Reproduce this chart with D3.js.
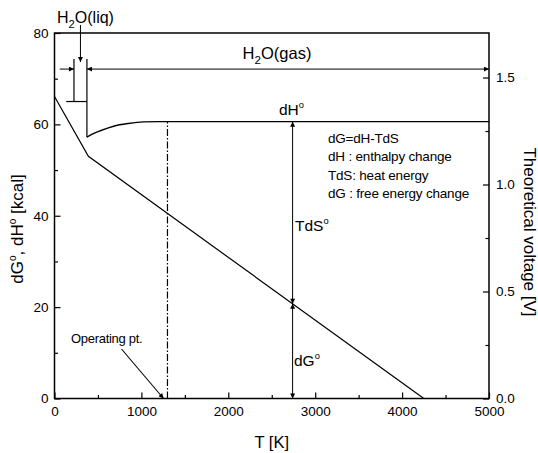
<!DOCTYPE html>
<html>
<head>
<meta charset="utf-8">
<script src="https://cdn.jsdelivr.net/npm/d3@7"></script>
<style>
  body { margin: 0; background: #fff; }
  text { font-family: Arial, "Liberation Sans", sans-serif; fill: #000; }
</style>
</head>
<body>
<script>
// temperature axis
var tMajor = [0, 1000, 2000, 3000, 4000, 5000];
var tMinor = [500, 1500, 2500, 3500, 4500];
// energy axis [kcal]
var eMajor = [0, 20, 40, 60, 80];
var eMinor = [10, 30, 50, 70];
// voltage axis [V]
var vMajor = [0.0, 0.5, 1.0, 1.5];
var vMinor = [0.25, 0.75, 1.25];

// dG curve (T, kcal)
var dgT = [0, 390, 4250];
var dgV = [66.1, 53.0, 0];
// dH curve (T, kcal)
var dhT = [373, 440, 527, 680, 850, 1023, 1200, 5000];
var dhV = [57.2, 57.9, 58.6, 59.6, 60.2, 60.55, 60.6, 60.6];

var liqT = [224, 373];      // liquid bracket
var liqTop = 74.3, liqBottom = 65.0, liqBarStart = 135;
var phaseY = 72.1;           // phase arrows level
var opT = 1300;              // operating point
var arrowT = 2740;           // TdS / dG arrows

var legend = ["dG=dH-TdS", "dH : enthalpy change", "TdS: heat energy", "dG : free energy change"];

var W = 538, H = 453;
var svg = d3.select("body").append("svg")
    .attr("width", W)
    .attr("height", H);

var x = d3.scaleLinear().domain([0, 5000]).range([54.5, 489]);
var y = d3.scaleLinear().domain([0, 80]).range([398.5, 33]);
var yv = d3.scaleLinear().domain([0, 1.708]).range([398.5, 33]);

var defs = svg.append("defs");
defs.append("marker")
    .attr("id", "ah")
    .attr("viewBox", "0 0 10 10")
    .attr("refX", 10).attr("refY", 5)
    .attr("markerWidth", 7).attr("markerHeight", 5)
    .attr("markerUnits", "userSpaceOnUse")
    .attr("orient", "auto-start-reverse")
  .append("path")
    .attr("d", "M0,0L10,5L0,10z")
    .attr("fill", "#000");

// axes
function styleAxis(g) {
  g.select(".domain").remove();
  g.selectAll("line").attr("stroke", "#000").attr("stroke-width", 1.2);
  g.selectAll("text").style("font-size", "13.5px").style("font-family", "Arial, 'Liberation Sans', sans-serif");
}

svg.append("g").attr("transform", "translate(0,398.5)")
  .call(d3.axisBottom(x).tickValues(tMajor).tickSize(-6).tickPadding(8).tickFormat(d3.format("d")))
  .call(styleAxis);
svg.append("g").attr("transform", "translate(0,398.5)")
  .call(d3.axisBottom(x).tickValues(tMinor).tickSize(-3.5).tickFormat(""))
  .call(styleAxis);

svg.append("g").attr("transform", "translate(54.5,0)")
  .call(d3.axisLeft(y).tickValues(eMajor).tickSize(-6).tickPadding(6))
  .call(styleAxis);
svg.append("g").attr("transform", "translate(54.5,0)")
  .call(d3.axisLeft(y).tickValues(eMinor).tickSize(-3.5).tickFormat(""))
  .call(styleAxis);

svg.append("g").attr("transform", "translate(489,0)")
  .call(d3.axisRight(yv).tickValues(vMajor).tickSize(-6).tickPadding(7).tickFormat(d3.format(".1f")))
  .call(styleAxis);
svg.append("g").attr("transform", "translate(489,0)")
  .call(d3.axisRight(yv).tickValues(vMinor).tickSize(-3.5).tickFormat(""))
  .call(styleAxis);

// frame
svg.append("rect")
    .attr("x", x(0)).attr("y", y(80))
    .attr("width", x(5000) - x(0)).attr("height", y(0) - y(80))
    .attr("fill", "none").attr("stroke", "#000").attr("stroke-width", 1.5);

var line = d3.line().x(function(d){ return x(d[0]); }).y(function(d){ return y(d[1]); });

var dg = dgT.map(function(t, i){ return [t, dgV[i]]; });
var dh = dhT.map(function(t, i){ return [t, dhV[i]]; });

svg.append("path").attr("d", line(dg))
    .attr("fill", "none").attr("stroke", "#000").attr("stroke-width", 1.2);
svg.append("path").attr("d", d3.line().curve(d3.curveMonotoneX).x(function(d){ return x(d[0]); }).y(function(d){ return y(d[1]); })(dh))
    .attr("fill", "none").attr("stroke", "#000").attr("stroke-width", 1.4);

function seg(t1, v1, t2, v2, opts) {
  opts = opts || {};
  var l = svg.append("line")
      .attr("x1", x(t1)).attr("y1", y(v1))
      .attr("x2", x(t2)).attr("y2", y(v2))
      .attr("stroke", "#000").attr("stroke-width", opts.w || 1.2);
  if (opts.dash) l.attr("stroke-dasharray", opts.dash);
  if (opts.end) l.attr("marker-end", "url(#ah)");
  if (opts.start) l.attr("marker-start", "url(#ah)");
  return l;
}

// liquid bracket
seg(liqT[0], liqTop, liqT[0], liqBottom);
seg(liqT[1], liqTop, liqT[1], dhV[0]);
seg(liqBarStart, liqBottom, liqT[1], liqBottom);

// phase arrows
seg(60, phaseY, liqT[0], phaseY, { end: true, w: 1 });
seg(liqT[1], phaseY, 5000, phaseY, { start: true, end: true, w: 1 });

// H2O(liq) pointer
svg.append("line")
    .attr("x1", x((liqT[0] + liqT[1]) / 2)).attr("y1", 25)
    .attr("x2", x((liqT[0] + liqT[1]) / 2)).attr("y2", 62)
    .attr("stroke", "#000").attr("stroke-width", 1)
    .attr("marker-end", "url(#ah)");

// operating point
seg(opT, 0, opT, dhV[dhV.length - 1], { dash: "7,2,1.5,2", w: 1.2 });
svg.append("line")
    .attr("x1", 121.5).attr("y1", 349)
    .attr("x2", x(1255)).attr("y2", y(0))
    .attr("stroke", "#000").attr("stroke-width", 1.1)
    .attr("marker-end", "url(#ah)");

// TdS and dG arrows
var dgAt = d3.scaleLinear().domain(dgT.slice(1)).range(dgV.slice(1))(arrowT);
seg(arrowT, dgAt, arrowT, dhV[dhV.length - 1], { start: true, end: true, w: 1 });
seg(arrowT, dgAt, arrowT, 0, { start: true, end: true, w: 1 });

// labels
function supLabel(tx, ty, parts, size, anchor) {
  var t = svg.append("text").attr("x", tx).attr("y", ty)
      .attr("text-anchor", anchor || "start")
      .style("font-size", size + "px");
  parts.forEach(function(p) {
    var s = t.append("tspan").text(p[0]);
    if (p[1] === "sub") s.attr("dy", size * 0.3).style("font-size", (size * 0.7) + "px");
    else if (p[1] === "sup") s.attr("dy", -size * 0.42).style("font-size", (size * 0.6) + "px");
    else if (p[1] === "back-sub") s.attr("dy", -size * 0.3);
    else if (p[1] === "back-sup") s.attr("dy", size * 0.42);
  });
  return t;
}

supLabel(57, 23, [["H"], ["2", "sub"], ["O(liq)", "back-sub"]], 16);
supLabel(277, 59, [["H"], ["2", "sub"], ["O(gas)", "back-sub"]], 16.5, "middle");
supLabel(279, 115, [["dH"], ["o", "sup"]], 15.5);
supLabel(295, 231, [["TdS"], ["o", "sup"]], 15.5);
supLabel(294, 366, [["dG"], ["o", "sup"]], 15.5);

svg.append("text").attr("x", 71).attr("y", 343)
    .style("font-size", "13px").style("letter-spacing", "-0.3px")
    .text("Operating pt.");

svg.selectAll(".leg")
    .data(legend)
    .enter()
    .append("text")
    .attr("x", 328)
    .attr("y", function(d, i){ return 143 + i * 18.4; })
    .style("font-size", "13.5px")
    .style("letter-spacing", "-0.2px")
    .text(function(d){ return d; });

// axis titles
svg.append("text").attr("x", x(2500)).attr("y", 448)
    .attr("text-anchor", "middle").style("font-size", "16.5px")
    .text("T [K]");

var yl = svg.append("text")
    .attr("transform", "translate(23,229) rotate(-90)")
    .attr("text-anchor", "middle").style("font-size", "17px");
yl.append("tspan").text("dG");
yl.append("tspan").attr("dy", -7).style("font-size", "10px").text("o");
yl.append("tspan").attr("dy", 7).text(", dH");
yl.append("tspan").attr("dy", -7).style("font-size", "10px").text("o");
yl.append("tspan").attr("dy", 7).text("  [kcal]");

svg.append("text")
    .attr("transform", "translate(524,232) rotate(90)")
    .attr("text-anchor", "middle").style("font-size", "17px")
    .text("Theoretical voltage [V]");
</script>
</body>
</html>
